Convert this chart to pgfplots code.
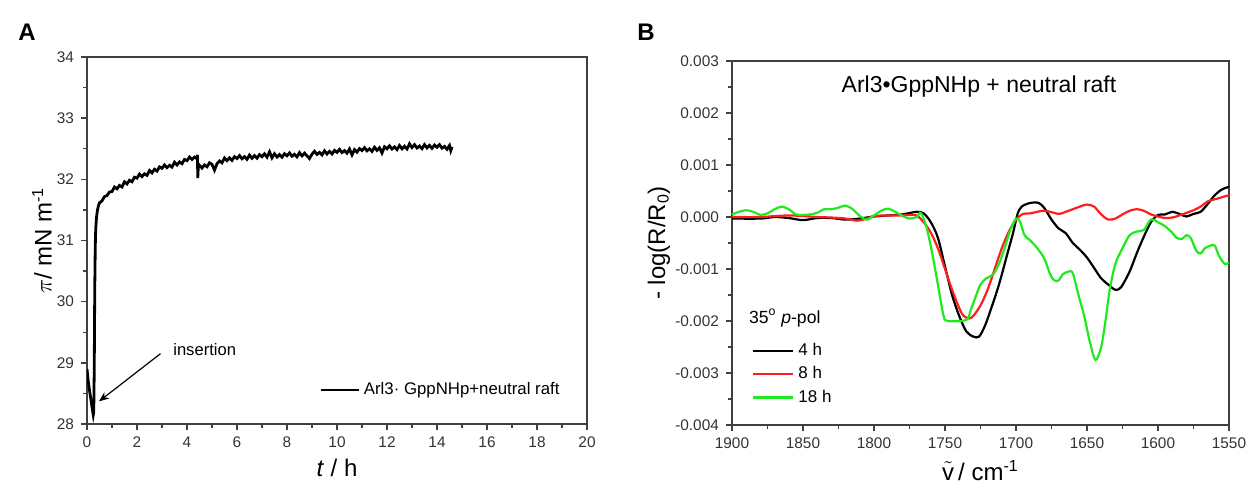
\documentclass[border=0pt]{standalone}
\usepackage{fontspec}
\setmainfont{Liberation Sans}
\usepackage{amsmath}
\usepackage{pgfplots}
\pgfplotsset{compat=1.18}
\usetikzlibrary{arrows.meta}

\definecolor{axgray}{gray}{0.25}
\definecolor{lred}{RGB}{255,30,30}
\definecolor{lgreen}{RGB}{30,235,30}

\pgfplotsset{myax/.style={
  scale only axis, anchor=south west,
  axis line style={axgray, line width=0.8pt},
  tick align=outside, tick pos=left,
  major tick length=3pt, minor tick length=1.8pt,
  every tick/.style={axgray, line width=0.7pt},
  tick label style={font=\fontsize{7.7}{9}\selectfont, text=black!80},
  /pgf/number format/assume math mode=true,
  /pgf/number format/1000 sep={},
  label style={font=\fontsize{12}{14}\selectfont},
  minor x tick num=1, minor y tick num=1,
}}

\begin{document}
\begin{tikzpicture}
\path[use as bounding box] (0,0) rectangle (624pt,-243.5pt);

\node[font=\bfseries\fontsize{12}{14}\selectfont] at (13.5pt,-16pt) {A};
\node[font=\bfseries\fontsize{12}{14}\selectfont] at (323pt,-16pt) {B};

% ---- panel A: surface pressure vs time
\begin{axis}[myax, at={(43.5pt,-212pt)}, width=250pt, height=183.5pt,
  xmin=0, xmax=20, ymin=28, ymax=34,
  xtick={0,2,...,20}, ytick={28,29,...,34},
  xlabel={\textit{t} / h}, ylabel={$\pi$/ mN m\textsuperscript{-1}},
  xlabel style={at={(axis description cs:0.5,-0.12)}, anchor=center},
  ylabel style={at={(axis description cs:-0.09,0.5)}, anchor=center},
  legend style={at={(axis description cs:0.465,0.092)}, anchor=west,
    draw=none, fill=none, inner sep=0pt, font=\fontsize{8.4}{10}\selectfont},
  legend image code/.code={\draw[#1, line width=1pt] (0pt,0pt)--(19pt,0pt);},
]
\addplot[black, line width=1.4pt] coordinates {
(0,28.90) (0.05,28.70) (0.1,28.55) (0.15,28.42) (0.2,28.28) (0.25,28.15)
(0.27,28.20) (0.29,28.9) (0.31,30.2) (0.33,30.9) (0.35,31.2) (0.38,31.38)
(0.42,31.5) (0.46,31.57)
(0.5,31.615) (0.6,31.648) (0.7,31.718) (0.8,31.735) (0.9,31.793) (1.0,31.800)
(1.1,31.875) (1.2,31.845) (1.3,31.900) (1.4,31.875) (1.5,31.960) (1.6,31.925)
(1.7,31.985) (1.8,31.960) (1.9,32.035) (2.0,32.020) (2.1,32.085) (2.2,32.045)
(2.3,32.090) (2.4,32.065) (2.5,32.145) (2.6,32.105) (2.7,32.165) (2.8,32.135)
(2.9,32.205) (3.0,32.180) (3.1,32.235) (3.2,32.190) (3.3,32.230) (3.4,32.200)
(3.5,32.280) (3.6,32.235) (3.7,32.285) (3.8,32.255) (3.9,32.325) (4.0,32.305)
(4.1,32.365) (4.2,32.325) (4.3,32.365) (4.4,32.335) (4.42,32.40) (4.43,32.02)
(4.45,32.19) (4.5,32.230) (4.6,32.185) (4.7,32.235) (4.8,32.205) (4.9,32.270)
(5.0,32.245) (5.1,32.150) (5.2,32.255) (5.3,32.300) (5.4,32.270) (5.5,32.350)
(5.6,32.305) (5.7,32.350) (5.8,32.310) (5.9,32.370) (6.0,32.340) (6.1,32.388)
(6.2,32.336) (6.3,32.370) (6.4,32.328) (6.5,32.396) (6.6,32.344) (6.7,32.387)
(6.8,32.345) (6.9,32.403) (7.0,32.370) (7.1,32.417) (7.2,32.363) (7.3,32.450)
(7.4,32.351) (7.5,32.418) (7.6,32.364) (7.7,32.406) (7.8,32.362) (7.9,32.419)
(8.0,32.385) (8.1,32.432) (8.2,32.378) (8.3,32.410) (8.4,32.368) (8.5,32.436)
(8.6,32.384) (8.7,32.427) (8.8,32.385) (8.9,32.340) (9.0,32.411) (9.1,32.459)
(9.2,32.407) (9.3,32.440) (9.4,32.398) (9.5,32.466) (9.6,32.414) (9.7,32.457)
(9.8,32.415) (9.9,32.473) (10.0,32.441) (10.1,32.489) (10.2,32.437) (10.3,32.470)
(10.4,32.428) (10.5,32.496) (10.6,32.400) (10.7,32.487) (10.8,32.445) (10.9,32.503)
(11.0,32.470) (11.1,32.518) (11.2,32.466) (11.3,32.499) (11.4,32.457) (11.5,32.525)
(11.6,32.473) (11.7,32.516) (11.8,32.430) (11.9,32.532) (12.0,32.500) (12.1,32.548)
(12.2,32.496) (12.3,32.530) (12.4,32.486) (12.5,32.553) (12.6,32.499) (12.7,32.541)
(12.8,32.497) (12.9,32.580) (13.0,32.520) (13.1,32.567) (13.2,32.513) (13.3,32.545)
(13.4,32.501) (13.5,32.568) (13.6,32.514) (13.7,32.555) (13.8,32.508) (13.9,32.561)
(14.0,32.524) (14.1,32.567) (14.2,32.510) (14.3,32.538) (14.4,32.491) (14.5,32.554)
(14.55,32.470) (14.6,32.530)
};
\addlegendentry{Arl3\textperiodcentered\ GppNHp+neutral raft}
\node[anchor=base west, font=\fontsize{8.3}{10}\selectfont] at (axis cs:3.17,29.12) {insertion};
\draw[-{Stealth[length=5pt,width=4pt]}, line width=0.6pt] (axis cs:2.94,29.15) -- (axis cs:0.48,28.37);
\end{axis}

% ---- panel B: IRRAS spectra
\begin{axis}[myax, at={(366pt,-212.5pt)}, width=248.5pt, height=182pt,
  x dir=reverse, xmin=1550, xmax=1900, ymin=-0.004, ymax=0.003,
  xtick={1550,1600,...,1900},
  ytick={-0.004,-0.003,-0.002,-0.001,0,0.001,0.002,0.003},
  scaled y ticks=false,
  yticklabel style={/pgf/number format/.cd, fixed, fixed zerofill, precision=3},
  xlabel={$\tilde{\text{v}}$\,/ cm\textsuperscript{-1}}, ylabel={- log(R/R\textsubscript{0})},
  xlabel style={at={(axis description cs:0.5,-0.125)}, anchor=center},
  ylabel style={at={(axis description cs:-0.147,0.5)}, anchor=center},
  legend style={at={(axis description cs:0.04,0.237)}, anchor=north west,
    draw=none, fill=none, inner sep=0pt, font=\fontsize{8.5}{10}\selectfont},
  legend cell align=left,
  legend image code/.code={\draw[#1] (0pt,0pt)--(20pt,0pt);},
  every axis plot/.append style={line width=1.1pt, smooth, tension=0.5},
]
\addplot[black] coordinates {
(1900,-0.00003) (1880,-0.00003) (1870,0.00000) (1860,-0.00002) (1850,-0.00006)
(1840,-0.00002) (1830,-0.00002) (1820,-0.00005) (1810,-0.00003) (1800,0.00001)
(1790,0.00003) (1780,0.00005) (1770,0.00010) (1765,0.00007) (1760,-0.0001)
(1755,-0.0004) (1750,-0.00095) (1745,-0.0015) (1740,-0.0019) (1735,-0.0022)
(1730,-0.0023) (1726,-0.0023) (1722,-0.0021) (1718,-0.0018) (1712,-0.0013)
(1706,-0.0007) (1702,-0.0003) (1699,0.00005) (1696,0.0002) (1690,0.00027)
(1684,0.00027) (1680,0.00017) (1675,-0.00005) (1670,-0.00022) (1665,-0.00031)
(1660,-0.0005) (1655,-0.00063) (1650,-0.00078) (1645,-0.00098) (1640,-0.00118)
(1635,-0.0013) (1630,-0.0014) (1626,-0.00135) (1620,-0.00105) (1615,-0.0007)
(1610,-0.00038) (1605,-0.0001) (1600,0.00004) (1595,0.00005) (1590,0.0001)
(1585,0.00006) (1580,0.00001) (1575,0.00006) (1570,0.0001) (1565,0.00025)
(1560,0.00042) (1555,0.00053) (1550,0.00058)
};
\addlegendentry{4 h}
\addplot[lred] coordinates {
(1900,0.00000) (1880,0.00000) (1860,0.00003) (1840,0.00000) (1830,-0.00001)
(1820,-0.00003) (1812,-0.00007) (1805,-0.00003) (1800,0.00002) (1790,0.00003)
(1780,0.00003) (1775,0.00004) (1770,0.00003) (1765,-0.0001) (1760,-0.0003)
(1755,-0.0006) (1750,-0.0010) (1745,-0.0014) (1740,-0.00175) (1737,-0.0019)
(1733,-0.00195) (1730,-0.0019) (1725,-0.0017) (1720,-0.0014) (1715,-0.0010)
(1710,-0.0006) (1705,-0.00028) (1700,-0.00005) (1695,0.00006) (1690,0.00007)
(1680,0.00012) (1670,0.00006) (1665,0.0001) (1655,0.0002) (1650,0.00024)
(1645,0.0002) (1640,0.00005) (1635,-0.00005) (1630,-0.00003) (1625,0.00005)
(1620,0.00012) (1615,0.00015) (1610,0.00012) (1605,0.00005) (1600,0.00001)
(1595,-0.00002) (1590,-0.00001) (1585,0.00003) (1580,0.00008) (1575,0.00013)
(1570,0.0002) (1565,0.0003) (1560,0.00034) (1555,0.00038) (1550,0.00042)
};
\addlegendentry{8 h}
\addplot[lgreen] coordinates {
(1900,0.00005) (1895,0.0001) (1890,0.00013) (1885,0.0001) (1880,0.00004)
(1875,0.00007) (1870,0.00015) (1865,0.0002) (1860,0.00015) (1855,0.00005)
(1850,0.00004) (1845,0.00005) (1840,0.00008) (1835,0.00015) (1830,0.00015)
(1825,0.00018) (1820,0.00022) (1815,0.00015) (1810,0.00002) (1805,-0.00005)
(1800,0.00003) (1795,0.00012) (1790,0.00016) (1785,0.0001) (1780,0.00002)
(1775,-0.00003) (1770,0.0000) (1767,0.00008) (1763,-0.0002) (1759,-0.0007)
(1755,-0.0013) (1751,-0.0019) (1748,-0.002) (1735,-0.00198) (1732,-0.0018)
(1728,-0.0015) (1725,-0.0013) (1721,-0.00118) (1716,-0.0011) (1712,-0.0009)
(1708,-0.0006) (1704,-0.00025) (1700,-0.00003) (1697,-0.0001) (1694,-0.00035)
(1690,-0.00045) (1685,-0.0006) (1680,-0.0008) (1676,-0.0011) (1673,-0.00122)
(1670,-0.00122) (1667,-0.0011) (1663,-0.00105) (1660,-0.00108) (1656,-0.0015)
(1652,-0.0019) (1648,-0.0024) (1644,-0.00275) (1640,-0.0025) (1637,-0.002)
(1634,-0.0014) (1630,-0.0009) (1625,-0.0006) (1620,-0.00035) (1615,-0.00028)
(1610,-0.00025) (1605,-0.00005) (1600,-0.0001) (1595,-0.00018) (1590,-0.0003)
(1587,-0.0004) (1583,-0.00042) (1580,-0.00035) (1577,-0.0004) (1573,-0.00065)
(1570,-0.0007) (1567,-0.0006) (1563,-0.00055) (1560,-0.00055) (1557,-0.00075)
(1553,-0.0009) (1550,-0.00088)
};
\addlegendentry{18 h}
\node[font=\fontsize{11.5}{13}\selectfont] at (axis description cs:0.497,0.931) {Arl3•GppNHp + neutral raft};
\node[anchor=west, font=\fontsize{8.8}{10}\selectfont] at (axis description cs:0.02,0.294) {35\textsuperscript{o} \textit{p}-pol};
\end{axis}
\end{tikzpicture}
\end{document}
